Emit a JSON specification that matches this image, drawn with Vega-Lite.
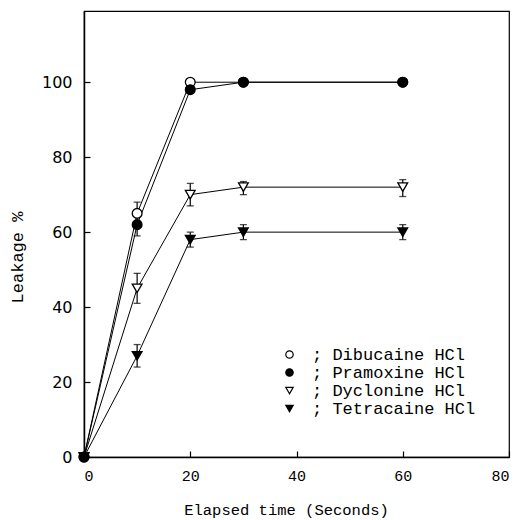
{
  "$schema": "https://vega.github.io/schema/vega-lite/v6.json",
  "autosize": "none",
  "width": 425,
  "height": 446,
  "padding": {"left": 84, "top": 11, "right": 11, "bottom": 63},
  "background": "white",
  "config": {
    "view": {"stroke": "black", "strokeWidth": 1.2},
    "axis": {"domainColor": "black", "domainWidth": 1.5, "tickColor": "black", "tickWidth": 1.2, "grid": false, "labelColor": "black", "titleColor": "black", "titleFontWeight": "normal", "zindex": 1}
  },
  "datasets": {
    "pts": [
      {"series": "Dibucaine HCl", "time": 0, "leak": 0},
      {"series": "Dibucaine HCl", "time": 10, "leak": 65},
      {"series": "Dibucaine HCl", "time": 20, "leak": 100},
      {"series": "Dibucaine HCl", "time": 30, "leak": 100},
      {"series": "Dibucaine HCl", "time": 60, "leak": 100},
      {"series": "Pramoxine HCl", "time": 0, "leak": 0},
      {"series": "Pramoxine HCl", "time": 10, "leak": 62},
      {"series": "Pramoxine HCl", "time": 20, "leak": 98},
      {"series": "Pramoxine HCl", "time": 30, "leak": 100},
      {"series": "Pramoxine HCl", "time": 60, "leak": 100},
      {"series": "Dyclonine HCl", "time": 0, "leak": 0},
      {"series": "Dyclonine HCl", "time": 10, "leak": 45},
      {"series": "Dyclonine HCl", "time": 20, "leak": 70},
      {"series": "Dyclonine HCl", "time": 30, "leak": 72},
      {"series": "Dyclonine HCl", "time": 60, "leak": 72},
      {"series": "Tetracaine HCl", "time": 0, "leak": 0},
      {"series": "Tetracaine HCl", "time": 10, "leak": 27},
      {"series": "Tetracaine HCl", "time": 20, "leak": 58},
      {"series": "Tetracaine HCl", "time": 30, "leak": 60},
      {"series": "Tetracaine HCl", "time": 60, "leak": 60}
    ],
    "errs": [
      {"series": "Dibucaine HCl", "time": 10, "lo": 65, "hi": 68},
      {"series": "Pramoxine HCl", "time": 10, "lo": 59, "hi": 62},
      {"series": "Dyclonine HCl", "time": 10, "lo": 41, "hi": 49},
      {"series": "Dyclonine HCl", "time": 20, "lo": 67, "hi": 73},
      {"series": "Dyclonine HCl", "time": 30, "lo": 70, "hi": 73.5},
      {"series": "Dyclonine HCl", "time": 60, "lo": 69.5, "hi": 74},
      {"series": "Tetracaine HCl", "time": 10, "lo": 24, "hi": 30},
      {"series": "Tetracaine HCl", "time": 20, "lo": 56, "hi": 60},
      {"series": "Tetracaine HCl", "time": 30, "lo": 58, "hi": 62},
      {"series": "Tetracaine HCl", "time": 60, "lo": 58, "hi": 62}
    ]
  },
  "encoding": {
    "x": {
      "field": "time", "type": "quantitative",
      "scale": {"domain": [0, 80], "nice": false},
      "axis": {
        "title": "Elapsed time (Seconds)",
        "values": [0, 20, 40, 60, 80],
        "tickSize": -6,
        "labelPadding": 17,
        "labelFont": "Liberation Mono", "labelFontSize": 15,
        "titleFont": "Liberation Mono", "titleFontSize": 15.5,
        "titleX": 202, "titleY": 57, "titleAlign": "center", "titleBaseline": "alphabetic"
      }
    }
  },
  "layer": [
    {
      "data": {"name": "pts"},
      "mark": {"type": "line", "color": "black", "strokeWidth": 1},
      "encoding": {
        "y": {
          "field": "leak", "type": "quantitative",
          "scale": {"domain": [0, 119], "nice": false},
          "axis": {
            "title": "Leakage  %",
            "values": [0, 20, 40, 60, 80, 100],
            "tickSize": -6,
            "labelPadding": 18,
            "labelFont": "DejaVu Sans", "labelFontSize": 16,
            "titleFont": "Liberation Mono", "titleFontSize": 17,
            "titleX": -67, "titleY": 246, "titleAlign": "center", "titleBaseline": "middle", "titleAngle": -90
          }
        },
        "detail": {"field": "series"}
      }
    },
    {
      "data": {"name": "errs"},
      "mark": {"type": "rule", "color": "black", "strokeWidth": 1.2},
      "encoding": {
        "y": {"field": "lo", "type": "quantitative"},
        "y2": {"field": "hi"}
      }
    },
    {
      "data": {"name": "errs"},
      "mark": {"type": "tick", "color": "black", "size": 7, "thickness": 1.3, "orient": "horizontal"},
      "encoding": {
        "y": {"field": "hi", "type": "quantitative"}
      }
    },
    {
      "data": {"name": "errs"},
      "mark": {"type": "tick", "color": "black", "size": 7, "thickness": 1.3, "orient": "horizontal"},
      "encoding": {
        "y": {"field": "lo", "type": "quantitative"}
      }
    },
    {
      "data": {"name": "pts"},
      "mark": {"type": "point", "stroke": "black", "strokeWidth": 1.3, "opacity": 1, "filled": false},
      "encoding": {
        "y": {"field": "leak", "type": "quantitative"},
        "shape": {
          "field": "series", "type": "nominal",
          "scale": {"domain": ["Dibucaine HCl", "Pramoxine HCl", "Dyclonine HCl", "Tetracaine HCl"], "range": ["circle", "circle", "triangle-down", "triangle-down"]},
          "legend": {
            "title": null, "orient": "none", "legendX": 197, "legendY": 335,
            "labelExpr": "'; ' + datum.label", "labelLimit": 0,
            "labelFont": "Liberation Mono", "labelFontSize": 17, "labelColor": "black",
            "symbolSize": 55, "symbolStrokeColor": "black", "symbolStrokeWidth": 1.2,
            "labelOffset": 14, "rowPadding": 0, "symbolOpacity": 1,
            "encode": {"symbols": {"update": {"stroke": {"value": "black"}, "strokeWidth": {"value": 1.2}}}}
          }
        },
        "fill": {
          "field": "series", "type": "nominal",
          "scale": {"domain": ["Dibucaine HCl", "Pramoxine HCl", "Dyclonine HCl", "Tetracaine HCl"], "range": ["white", "black", "white", "black"]},
          "legend": {
            "title": null, "orient": "none", "legendX": 197, "legendY": 335,
            "labelExpr": "'; ' + datum.label", "labelLimit": 0,
            "labelFont": "Liberation Mono", "labelFontSize": 17, "labelColor": "black",
            "symbolSize": 55, "symbolStrokeColor": "black", "symbolStrokeWidth": 1.2,
            "labelOffset": 14, "rowPadding": 0, "symbolOpacity": 1,
            "encode": {"symbols": {"update": {"stroke": {"value": "black"}, "strokeWidth": {"value": 1.2}}}}
          }
        },
        "size": {"value": 95}
      }
    }
  ]
}
